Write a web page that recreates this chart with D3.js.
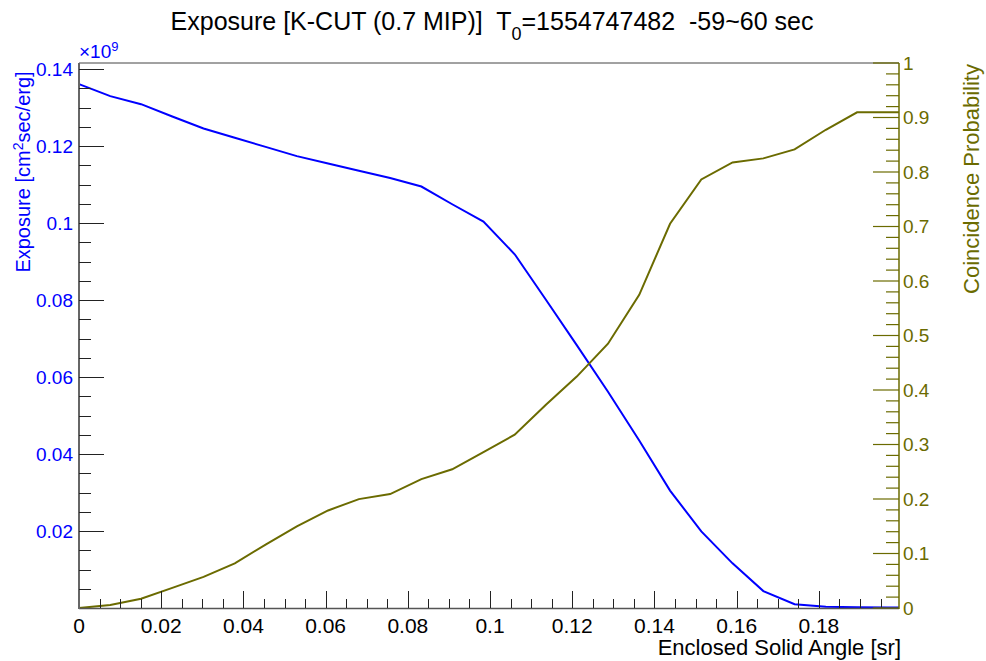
<!DOCTYPE html>
<html>
<head>
<meta charset="utf-8">
<script src="https://cdn.jsdelivr.net/npm/d3@7"></script>
<style>
  html, body { margin: 0; padding: 0; background: #fff; }
  svg { display: block; }
  text { font-family: "Liberation Sans", Arial, sans-serif; white-space: pre; }
</style>
</head>
<body>
<div id="chart"></div>
<script>
// Solid angle nodes [sr]
const solidAngle = [0, 0.0076, 0.0151, 0.0227, 0.0303, 0.0379, 0.0454, 0.053, 0.0606, 0.0681,
    0.0757, 0.0833, 0.0908, 0.0984, 0.106, 0.1136, 0.1211, 0.1287, 0.1363, 0.1438,
    0.1514, 0.159, 0.1665, 0.1741, 0.1817, 0.1893, 0.1968, 0.1995];

// Exposure [x1e9 cm2 sec/erg]
const exposure = [0.1361, 0.133, 0.1309, 0.1277, 0.1246, 0.1222, 0.1198, 0.1174, 0.1155, 0.1136,
    0.1117, 0.1095, 0.1049, 0.1004, 0.0919, 0.0801, 0.0683, 0.0562, 0.0435, 0.0305,
    0.0199, 0.0116, 0.0044, 0.001, 0.0003, 0.0002, 0.0001, 0.0001];

// Coincidence probability
const probability = [0, 0.0055, 0.017, 0.037, 0.057, 0.082, 0.1164, 0.1498, 0.179, 0.1998,
    0.209, 0.2365, 0.2545, 0.286, 0.318, 0.373, 0.4246, 0.485, 0.5747, 0.705,
    0.7864, 0.8176, 0.825, 0.8414, 0.8775, 0.9096, 0.9096, 0.9096];

const xTicks = [0, 0.02, 0.04, 0.06, 0.08, 0.1, 0.12, 0.14, 0.16, 0.18];
const xTickLabels = ["0", "0.02", "0.04", "0.06", "0.08", "0.1", "0.12", "0.14", "0.16", "0.18"];
const leftTicks = [0.02, 0.04, 0.06, 0.08, 0.1, 0.12, 0.14];
const leftTickLabels = ["0.02", "0.04", "0.06", "0.08", "0.1", "0.12", "0.14"];
const rightTicks = [0, 0.1, 0.2, 0.3, 0.4, 0.5, 0.6, 0.7, 0.8, 0.9, 1];
const rightTickLabels = ["0", "0.1", "0.2", "0.3", "0.4", "0.5", "0.6", "0.7", "0.8", "0.9", "1"];

const blue = "#0000ff";
const olive = "#6b6b00";

const W = 986, H = 661;
const plotL = 79, plotR = 899, plotT = 63, plotB = 608;

const svg = d3.select("#chart").append("svg")
    .attr("width", W)
    .attr("height", H);

const x = d3.scaleLinear().domain([0, 0.1995]).range([plotL, plotR]);
const yL = d3.scaleLinear().domain([0, 0.1416]).range([plotB, plotT]);
const yR = d3.scaleLinear().domain([0, 1]).range([plotB, plotT]);

// curves
const rows = solidAngle.map((s, i) => ({s: s, e: exposure[i], p: probability[i]}));

svg.append("path")
    .datum(rows)
    .attr("fill", "none")
    .attr("stroke", blue)
    .attr("stroke-width", 2)
    .attr("d", d3.line().x(d => x(d.s)).y(d => yL(d.e)));

svg.append("path")
    .datum(rows)
    .attr("fill", "none")
    .attr("stroke", olive)
    .attr("stroke-width", 2)
    .attr("d", d3.line().x(d => x(d.s)).y(d => yR(d.p)));

// frame top
svg.append("line")
    .attr("x1", plotL).attr("x2", plotR)
    .attr("y1", plotT).attr("y2", plotT)
    .attr("stroke", "#444").attr("stroke-width", 1);

// x axis
svg.append("line")
    .attr("x1", plotL).attr("x2", plotR)
    .attr("y1", plotB + 0.5).attr("y2", plotB + 0.5)
    .attr("stroke", "#555").attr("stroke-width", 1.5);

const xMinor = d3.range(0, 0.1995, 0.005);
svg.append("g").selectAll("line")
    .data(xMinor)
    .join("line")
    .attr("x1", d => Math.round(x(d)) + 0.5).attr("x2", d => Math.round(x(d)) + 0.5)
    .attr("y1", plotB).attr("y2", d => plotB - (xTicks.some(t => Math.abs(t - d) < 1e-6) ? 17 : 9))
    .attr("stroke", "#222").attr("stroke-width", 1);

svg.append("g").selectAll("text")
    .data(xTicks)
    .join("text")
    .attr("x", d => x(d))
    .attr("y", 633)
    .attr("text-anchor", "middle")
    .attr("font-size", 21)
    .attr("fill", "#000")
    .text((d, i) => xTickLabels[i]);

svg.append("text")
    .attr("x", 901)
    .attr("y", 655)
    .attr("text-anchor", "end")
    .attr("font-size", 22)
    .attr("fill", "#000")
    .text("Enclosed Solid Angle [sr]");

// left axis
svg.append("line")
    .attr("x1", plotL).attr("x2", plotL)
    .attr("y1", plotT).attr("y2", plotB + 1)
    .attr("stroke", "#666").attr("stroke-width", 2);

const leftMinor = d3.range(0.005, 0.1416, 0.005);
svg.append("g").selectAll("line")
    .data(leftMinor)
    .join("line")
    .attr("x1", plotL).attr("x2", d => plotL + (leftTicks.some(t => Math.abs(t - d) < 1e-6) ? 25 : 12))
    .attr("y1", d => Math.round(yL(d)) + 0.5).attr("y2", d => Math.round(yL(d)) + 0.5)
    .attr("stroke", "#222").attr("stroke-width", 1);

svg.append("g").selectAll("text")
    .data(leftTicks)
    .join("text")
    .attr("x", 73)
    .attr("y", d => yL(d))
    .attr("dy", "0.36em")
    .attr("text-anchor", "end")
    .attr("font-size", 19)
    .attr("fill", blue)
    .text((d, i) => leftTickLabels[i]);

const mult = svg.append("text")
    .attr("x", 79)
    .attr("y", 58)
    .attr("font-size", 19)
    .attr("fill", blue);
mult.append("tspan").text("\u00d710");
mult.append("tspan").attr("dy", -7).attr("font-size", 13).text("9");

const leftTitle = svg.append("text")
    .attr("transform", "translate(30,172) rotate(-90)")
    .attr("text-anchor", "middle")
    .attr("font-size", 20)
    .attr("fill", blue);
leftTitle.append("tspan").text("Exposure [cm");
leftTitle.append("tspan").attr("dy", -7).attr("font-size", 14).text("2");
leftTitle.append("tspan").attr("dy", 7).text("sec/erg]");

// right axis
svg.append("line")
    .attr("x1", plotR).attr("x2", plotR)
    .attr("y1", plotT).attr("y2", plotB + 1)
    .attr("stroke", olive).attr("stroke-width", 1.5);

const rightMinor = d3.range(0, 1.0001, 0.02);
svg.append("g").selectAll("line")
    .data(rightMinor)
    .join("line")
    .attr("x1", plotR).attr("x2", d => plotR - (rightTicks.some(t => Math.abs(t - d) < 1e-6) ? 26 : 13))
    .attr("y1", d => yR(d)).attr("y2", d => yR(d))
    .attr("stroke", olive).attr("stroke-width", 1.2);

svg.append("g").selectAll("text")
    .data(rightTicks)
    .join("text")
    .attr("x", 903)
    .attr("y", d => yR(d))
    .attr("dy", "0.36em")
    .attr("font-size", 19)
    .attr("fill", olive)
    .text((d, i) => rightTickLabels[i]);

svg.append("text")
    .attr("transform", "translate(979,179) rotate(-90)")
    .attr("text-anchor", "middle")
    .attr("font-size", 22)
    .attr("fill", olive)
    .text("Coincidence Probability");

// title
const title = svg.append("text")
    .attr("x", 492)
    .attr("y", 30)
    .attr("text-anchor", "middle")
    .attr("font-size", 25)
    .attr("fill", "#000");
title.append("tspan").text("Exposure [K-CUT (0.7 MIP)]  T");
title.append("tspan").attr("dy", 10).attr("font-size", 18).text("0");
title.append("tspan").attr("dy", -10).text("=1554747482  -59~60 sec");
</script>
</body>
</html>
